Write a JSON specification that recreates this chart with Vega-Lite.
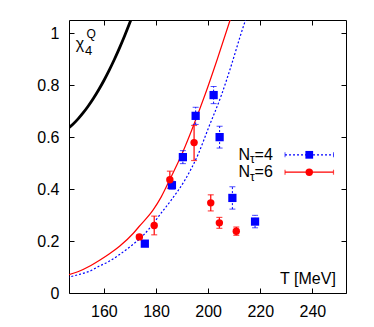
{
  "$schema": "https://vega.github.io/schema/vega-lite/v6.json",
  "width": 277,
  "height": 273,
  "autosize": "none",
  "padding": {"left": 69, "top": 20, "right": 28, "bottom": 34},
  "background": "white",
  "config": {
    "view": {"stroke": "black", "strokeWidth": 1},
    "font": "Liberation Sans",
    "axis": {"domain": false, "grid": false, "tickColor": "black", "tickSize": -5, "tickWidth": 1, "labelFont": "Liberation Sans", "labelFontSize": 16, "labelColor": "black", "labelPadding": 15, "title": null}
  },
  "data": {"values": [{}]},
  "datasets": {
    "pts": [
      {"T": 175.7, "v": 0.19, "lo": 0.185, "hi": 0.195, "s": "N4"},
      {"T": 186.1, "v": 0.415, "lo": 0.4, "hi": 0.43, "s": "N4"},
      {"T": 190.3, "v": 0.523, "lo": 0.498, "hi": 0.548, "s": "N4"},
      {"T": 195.2, "v": 0.682, "lo": 0.649, "hi": 0.715, "s": "N4"},
      {"T": 202.1, "v": 0.762, "lo": 0.729, "hi": 0.795, "s": "N4"},
      {"T": 204.4, "v": 0.6, "lo": 0.558, "hi": 0.642, "s": "N4"},
      {"T": 209.3, "v": 0.366, "lo": 0.323, "hi": 0.409, "s": "N4"},
      {"T": 218.0, "v": 0.275, "lo": 0.251, "hi": 0.299, "s": "N4"},
      {"T": 173.6, "v": 0.216, "lo": 0.208, "hi": 0.224, "s": "N6"},
      {"T": 179.3, "v": 0.26, "lo": 0.224, "hi": 0.296, "s": "N6"},
      {"T": 185.3, "v": 0.436, "lo": 0.403, "hi": 0.469, "s": "N6"},
      {"T": 194.6, "v": 0.579, "lo": 0.51, "hi": 0.645, "s": "N6"},
      {"T": 201.0, "v": 0.347, "lo": 0.316, "hi": 0.378, "s": "N6"},
      {"T": 204.3, "v": 0.27, "lo": 0.249, "hi": 0.291, "s": "N6"},
      {"T": 210.8, "v": 0.238, "lo": 0.222, "hi": 0.254, "s": "N6"}
    ],
    "curves": [
      {"T": 146.0, "v": 0.631, "c": "hrg"},
      {"T": 148.0, "v": 0.6486, "c": "hrg"},
      {"T": 150.0, "v": 0.6694, "c": "hrg"},
      {"T": 152.0, "v": 0.6931, "c": "hrg"},
      {"T": 154.0, "v": 0.7199, "c": "hrg"},
      {"T": 156.0, "v": 0.7497, "c": "hrg"},
      {"T": 158.0, "v": 0.7825, "c": "hrg"},
      {"T": 160.0, "v": 0.8182, "c": "hrg"},
      {"T": 162.0, "v": 0.857, "c": "hrg"},
      {"T": 164.0, "v": 0.8988, "c": "hrg"},
      {"T": 166.0, "v": 0.9435, "c": "hrg"},
      {"T": 168.0, "v": 0.9913, "c": "hrg"},
      {"T": 170.0, "v": 1.042, "c": "hrg"},
      {"T": 172.0, "v": 1.0958, "c": "hrg"},
      {"T": 146.0, "v": 0.069, "c": "r"},
      {"T": 150.0, "v": 0.082, "c": "r"},
      {"T": 155.0, "v": 0.106, "c": "r"},
      {"T": 158.5, "v": 0.127, "c": "r"},
      {"T": 162.0, "v": 0.15, "c": "r"},
      {"T": 166.0, "v": 0.18, "c": "r"},
      {"T": 171.3, "v": 0.23, "c": "r"},
      {"T": 173.5, "v": 0.256, "c": "r"},
      {"T": 178.9, "v": 0.32, "c": "r"},
      {"T": 182.0, "v": 0.37, "c": "r"},
      {"T": 185.3, "v": 0.437, "c": "r"},
      {"T": 189.8, "v": 0.532, "c": "r"},
      {"T": 193.6, "v": 0.625, "c": "r"},
      {"T": 198.8, "v": 0.763, "c": "r"},
      {"T": 203.5, "v": 0.9, "c": "r"},
      {"T": 208.4, "v": 1.05, "c": "r"},
      {"T": 210.0, "v": 1.1, "c": "r"},
      {"T": 146.0, "v": 0.06, "c": "b"},
      {"T": 150.0, "v": 0.07, "c": "b"},
      {"T": 155.0, "v": 0.086, "c": "b"},
      {"T": 158.5, "v": 0.105, "c": "b"},
      {"T": 162.0, "v": 0.122, "c": "b"},
      {"T": 166.0, "v": 0.148, "c": "b"},
      {"T": 170.0, "v": 0.178, "c": "b"},
      {"T": 174.4, "v": 0.215, "c": "b"},
      {"T": 178.0, "v": 0.255, "c": "b"},
      {"T": 181.0, "v": 0.295, "c": "b"},
      {"T": 186.0, "v": 0.36, "c": "b"},
      {"T": 191.1, "v": 0.435, "c": "b"},
      {"T": 196.2, "v": 0.535, "c": "b"},
      {"T": 200.1, "v": 0.635, "c": "b"},
      {"T": 205.2, "v": 0.765, "c": "b"},
      {"T": 209.0, "v": 0.88, "c": "b"},
      {"T": 212.2, "v": 0.985, "c": "b"},
      {"T": 214.3, "v": 1.05, "c": "b"},
      {"T": 216.0, "v": 1.1, "c": "b"}
    ]
  },
  "resolve": {"axis": {"x": "independent", "y": "independent"}},
  "layer": [
    {
      "data": {"name": "curves"},
      "transform": [{"filter": "datum.c === 'hrg'"}],
      "mark": {"type": "line", "color": "black", "strokeWidth": 2.8, "interpolate": "monotone", "clip": true},
      "encoding": {
        "x": {"field": "T", "type": "quantitative", "scale": {"domain": [146.6, 252.9], "nice": false, "zero": false}, "axis": {"orient": "bottom", "values": [160, 180, 200, 220, 240]}},
        "y": {"field": "v", "type": "quantitative", "scale": {"domain": [0, 1.051], "nice": false}, "axis": {"orient": "left", "values": [0, 0.2, 0.4, 0.6, 0.8, 1], "format": "~g"}}
      }
    },
    {
      "data": {"name": "curves"},
      "transform": [{"filter": "datum.c === 'r'"}],
      "mark": {"type": "line", "color": "#ff0000", "strokeWidth": 1.2, "interpolate": "monotone", "clip": true},
      "encoding": {
        "x": {"field": "T", "type": "quantitative", "axis": {"orient": "top", "values": [160, 180, 200, 220, 240], "labels": false}},
        "y": {"field": "v", "type": "quantitative", "axis": {"orient": "right", "values": [0, 0.2, 0.4, 0.6, 0.8, 1], "labels": false}}
      }
    },
    {
      "data": {"name": "curves"},
      "transform": [{"filter": "datum.c === 'b'"}],
      "mark": {"type": "line", "color": "#0000ff", "strokeWidth": 1.2, "strokeDash": [2, 2], "interpolate": "monotone", "clip": true},
      "encoding": {
        "x": {"field": "T", "type": "quantitative", "axis": null},
        "y": {"field": "v", "type": "quantitative", "axis": null}
      }
    },
    {
      "data": {"name": "pts"},
      "transform": [{"filter": "datum.s === 'N4'"}],
      "mark": {"type": "rule", "color": "#0000ff", "strokeWidth": 1, "strokeDash": [2, 2]},
      "encoding": {
        "x": {"field": "T", "type": "quantitative", "axis": null},
        "y": {"field": "lo", "type": "quantitative", "axis": null},
        "y2": {"field": "hi"}
      }
    },
    {
      "data": {"name": "pts"},
      "transform": [{"filter": "datum.s === 'N4'"}],
      "mark": {"type": "tick", "orient": "horizontal", "color": "#0000ff", "size": 6, "thickness": 1, "opacity": 0.7},
      "encoding": {
        "x": {"field": "T", "type": "quantitative", "axis": null},
        "y": {"field": "lo", "type": "quantitative", "axis": null}
      }
    },
    {
      "data": {"name": "pts"},
      "transform": [{"filter": "datum.s === 'N4'"}],
      "mark": {"type": "tick", "orient": "horizontal", "color": "#0000ff", "size": 6, "thickness": 1, "opacity": 0.7},
      "encoding": {
        "x": {"field": "T", "type": "quantitative", "axis": null},
        "y": {"field": "hi", "type": "quantitative", "axis": null}
      }
    },
    {
      "data": {"name": "pts"},
      "transform": [{"filter": "datum.s === 'N6'"}],
      "mark": {"type": "rule", "color": "#ff0000", "strokeWidth": 1.2},
      "encoding": {
        "x": {"field": "T", "type": "quantitative", "axis": null},
        "y": {"field": "lo", "type": "quantitative", "axis": null},
        "y2": {"field": "hi"}
      }
    },
    {
      "data": {"name": "pts"},
      "transform": [{"filter": "datum.s === 'N6'"}],
      "mark": {"type": "tick", "orient": "horizontal", "color": "#ff0000", "size": 6, "thickness": 1.2},
      "encoding": {
        "x": {"field": "T", "type": "quantitative", "axis": null},
        "y": {"field": "lo", "type": "quantitative", "axis": null}
      }
    },
    {
      "data": {"name": "pts"},
      "transform": [{"filter": "datum.s === 'N6'"}],
      "mark": {"type": "tick", "orient": "horizontal", "color": "#ff0000", "size": 6, "thickness": 1.2},
      "encoding": {
        "x": {"field": "T", "type": "quantitative", "axis": null},
        "y": {"field": "hi", "type": "quantitative", "axis": null}
      }
    },
    {
      "data": {"name": "pts"},
      "transform": [{"filter": "datum.s === 'N4'"}],
      "mark": {"type": "point", "shape": "square", "filled": true, "color": "#0000ff", "size": 68, "opacity": 1},
      "encoding": {
        "x": {"field": "T", "type": "quantitative", "axis": null},
        "y": {"field": "v", "type": "quantitative", "axis": null}
      }
    },
    {
      "data": {"name": "pts"},
      "transform": [{"filter": "datum.s === 'N6'"}],
      "mark": {"type": "point", "shape": "circle", "filled": true, "color": "#ff0000", "size": 55, "opacity": 1},
      "encoding": {
        "x": {"field": "T", "type": "quantitative", "axis": null},
        "y": {"field": "v", "type": "quantitative", "axis": null}
      }
    },
    {
      "mark": {"type": "rule", "color": "#0000ff", "strokeWidth": 1.2, "strokeDash": [2, 2]},
      "encoding": {"x": {"datum": 229.5, "axis": null}, "x2": {"datum": 248.1}, "y": {"datum": 0.532, "axis": null}}
    },
    {
      "mark": {"type": "tick", "orient": "vertical", "color": "#0000ff", "size": 5, "thickness": 1},
      "encoding": {"x": {"datum": 229.5, "axis": null}, "y": {"datum": 0.532, "axis": null}}
    },
    {
      "mark": {"type": "tick", "orient": "vertical", "color": "#0000ff", "size": 5, "thickness": 1},
      "encoding": {"x": {"datum": 248.1, "axis": null}, "y": {"datum": 0.532, "axis": null}}
    },
    {
      "mark": {"type": "point", "shape": "square", "filled": true, "color": "#0000ff", "size": 60, "opacity": 1},
      "encoding": {"x": {"datum": 238.8, "axis": null}, "y": {"datum": 0.532, "axis": null}}
    },
    {
      "mark": {"type": "rule", "color": "#ff0000", "strokeWidth": 1.2},
      "encoding": {"x": {"datum": 229.5, "axis": null}, "x2": {"datum": 248.1}, "y": {"datum": 0.465, "axis": null}}
    },
    {
      "mark": {"type": "tick", "orient": "vertical", "color": "#ff0000", "size": 5, "thickness": 1.2},
      "encoding": {"x": {"datum": 229.5, "axis": null}, "y": {"datum": 0.465, "axis": null}}
    },
    {
      "mark": {"type": "tick", "orient": "vertical", "color": "#ff0000", "size": 5, "thickness": 1.2},
      "encoding": {"x": {"datum": 248.1, "axis": null}, "y": {"datum": 0.465, "axis": null}}
    },
    {
      "mark": {"type": "point", "shape": "circle", "filled": true, "color": "#ff0000", "size": 55, "opacity": 1},
      "encoding": {"x": {"datum": 238.8, "axis": null}, "y": {"datum": 0.465, "axis": null}}
    },
    {
      "mark": {"type": "text", "text": "N", "align": "left", "baseline": "alphabetic", "fontSize": 16, "color": "black"},
      "encoding": {"x": {"datum": 211.6, "axis": null}, "y": {"datum": 0.513, "axis": null}}
    },
    {
      "mark": {"type": "text", "text": "τ", "align": "left", "baseline": "alphabetic", "fontSize": 12, "color": "black"},
      "encoding": {"x": {"datum": 216.1, "axis": null}, "y": {"datum": 0.499, "axis": null}}
    },
    {
      "mark": {"type": "text", "text": "=4", "align": "left", "baseline": "alphabetic", "fontSize": 16, "color": "black"},
      "encoding": {"x": {"datum": 217.8, "axis": null}, "y": {"datum": 0.513, "axis": null}}
    },
    {
      "mark": {"type": "text", "text": "N", "align": "left", "baseline": "alphabetic", "fontSize": 16, "color": "black"},
      "encoding": {"x": {"datum": 211.6, "axis": null}, "y": {"datum": 0.446, "axis": null}}
    },
    {
      "mark": {"type": "text", "text": "τ", "align": "left", "baseline": "alphabetic", "fontSize": 12, "color": "black"},
      "encoding": {"x": {"datum": 216.1, "axis": null}, "y": {"datum": 0.432, "axis": null}}
    },
    {
      "mark": {"type": "text", "text": "=6", "align": "left", "baseline": "alphabetic", "fontSize": 16, "color": "black"},
      "encoding": {"x": {"datum": 217.8, "axis": null}, "y": {"datum": 0.446, "axis": null}}
    },
    {
      "mark": {"type": "text", "text": "T [MeV]", "align": "right", "baseline": "alphabetic", "fontSize": 16, "color": "black"},
      "encoding": {"x": {"datum": 249.0, "axis": null}, "y": {"datum": 0.036, "axis": null}}
    },
    {
      "mark": {"type": "text", "text": "χ", "align": "left", "baseline": "alphabetic", "fontSize": 16, "color": "black"},
      "encoding": {"x": {"datum": 149.2, "axis": null}, "y": {"datum": 0.9385, "axis": null}}
    },
    {
      "mark": {"type": "text", "text": "4", "align": "left", "baseline": "alphabetic", "fontSize": 13, "color": "black"},
      "encoding": {"x": {"datum": 152.7, "axis": null}, "y": {"datum": 0.918, "axis": null}}
    },
    {
      "mark": {"type": "text", "text": "Q", "align": "left", "baseline": "alphabetic", "fontSize": 12, "color": "black"},
      "encoding": {"x": {"datum": 153.3, "axis": null}, "y": {"datum": 0.982, "axis": null}}
    }
  ]
}
